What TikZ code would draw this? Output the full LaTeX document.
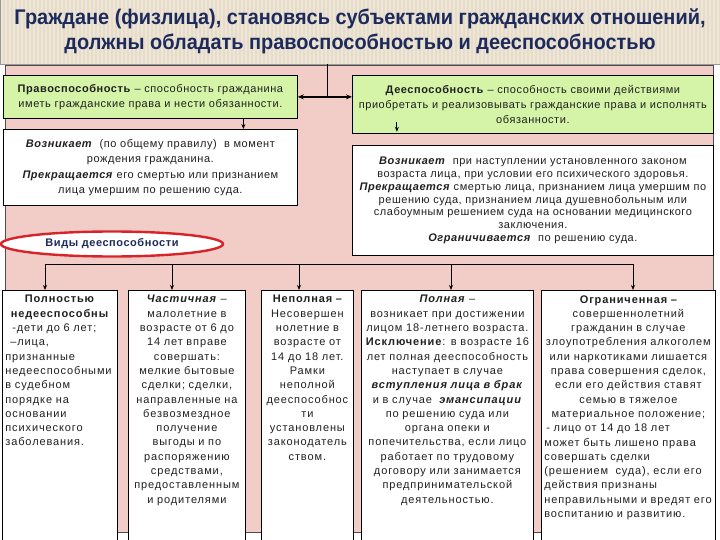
\documentclass[tikz,border=0pt]{standalone}
\usepackage{fontspec}
\setmainfont{Liberation Sans}[LetterSpace=5]
\newfontfamily\titlefont{Liberation Sans}[FakeStretch=0.94]
\newfontfamily\widefont{Liberation Sans}[LetterSpace=8]
\usetikzlibrary{shapes.geometric,arrows.meta}
\definecolor{navy}{HTML}{1C2A5C}
\definecolor{sand}{HTML}{EEE5D4}
\definecolor{blush}{HTML}{F2CDC8}
\definecolor{lime}{HTML}{D5F4A8}
\definecolor{ring}{HTML}{D8232A}
\definecolor{ink}{HTML}{202020}

\begin{document}
\begin{tikzpicture}[x=1pt,y=-1pt,
  box/.style={draw=black,line width=0.8pt,anchor=north west,inner xsep=3pt,text=ink,
    font=\fontsize{11}{15}\selectfont},
  topbox/.style={box,align=center},
  botbox/.style={box,inner ysep=5pt,text depth=244pt,font=\widefont\fontsize{11}{14.3}\selectfont},
  wire/.style={line width=0.9pt,-{Stealth[length=5pt,width=4pt]}}]
\useasboundingbox (0,0) rectangle (720,540);
% Title band
\fill[sand] (0,0) rectangle (720,65);
\foreach \x in {0,4,...,720} {
  \draw[sand!70!black,opacity=0.12,line width=1.2pt] (\x,0) -- (\x,65);
}
\node[draw=black!40,minimum width=720pt,minimum height=65pt,align=center,text=navy,
  font=\titlefont\bfseries\fontsize{21.2}{25}\selectfont] (title) at (360,31.5)
  {Граждане (физлица), становясь субъектами гражданских отношений,\\
   должны обладать правоспособностью и дееспособностью};
% Pink field
\filldraw[fill=blush,draw=black!70,line width=0.6pt] (5,65) rectangle (713,532);
\node[topbox,fill=lime,text width=288pt,minimum width=294pt,minimum height=43pt] (legal) at (3,75)
  {\textbf{Правоспособность} – способность гражданина\\
   иметь гражданские права и нести обязанности.};
\node[topbox,fill=lime,text width=355pt,minimum width=361pt,minimum height=58pt] (capacity) at (352,75)
  {\textbf{Дееспособность} – способность своими действиями\\
   приобретать и реализовывать гражданские права и исполнять\\
   обязанности.};
\node[topbox,fill=white,text width=288pt,minimum width=294pt,minimum height=76pt,
  font=\fontsize{11}{15.5}\selectfont] (legalterm) at (3,129)
  {\textbf{\textit{Возникает}}\ \ (по общему правилу)\ \ в момент\\
   рождения гражданина.\\
   \textbf{\textit{Прекращается}} его смертью или признанием\\
   лица умершим по решению суда.};
\node[topbox,fill=white,text width=355pt,minimum width=361pt,minimum height=110pt,
  font=\fontsize{11}{12.8}\selectfont] (capterm) at (352,145)
  {\textbf{\textit{Возникает}}\ \ при наступлении установленного законом\\
   возраста лица, при условии его психического здоровья.\\
   \textbf{\textit{Прекращается}} смертью лица, признанием лица умершим по\\
   решению суда, признанием лица душевнобольным или\\
   слабоумным решением суда на основании медицинского\\
   заключения.\\
   \textbf{\textit{Ограничивается}}\ \ по решению суда.};
\node[ellipse,draw=ring,line width=2.4pt,fill=white,minimum width=222pt,minimum height=25pt,
  text=navy,font=\bfseries\fontsize{11}{13}\selectfont] (kinds) at (112,244) {Виды дееспособности};
% Kinds of capacity
\node[botbox,fill=white,text width=109pt] (b1) at (2,290)
  {{\centering\textbf{Полностью}\\ \textbf{недееспособны}\par}
   \raggedright\hspace*{7pt}-дети до 6 лет;\\
   \hspace*{5pt}–лица,\\ признанные\\ недееспособными\\ в судебном\\ порядке на\\
   основании\\ психического\\ заболевания.};
\node[botbox,fill=white,text width=111pt,align=center] (b2) at (128,290)
  {\textbf{\textit{Частичная}} –\\ малолетние в\\ возрасте от 6 до\\ 14 лет вправе\\ совершать:\\
   мелкие бытовые\\ сделки; сделки,\\ направленные на\\ безвозмездное\\ получение\\
   выгоды и по\\ распоряжению\\ средствами,\\ предоставленным\\ и родителями};
\node[botbox,fill=white,text width=86pt,align=center] (b3) at (261,290)
  {\textbf{Неполная –}\\ Несовершен\\ нолетние в\\ возрасте от\\ 14 до 18 лет.\\ Рамки\\
   неполной\\ дееспособнос\\ ти\\ установлены\\ законодатель\\ ством.};
\node[botbox,fill=white,text width=166pt,align=center] (b4) at (361,290)
  {\textbf{\textit{Полная}} –\\ возникает при достижении\\ лицом 18-летнего возраста.\\
   \textbf{Исключение}: в возрасте 16\\ лет полная дееспособность\\ наступает в случае\\
   \textbf{\textit{вступления лица в брак}}\\ и в случае\ \ \textbf{\textit{эмансипации}}\\
   по решению суда или\\ органа опеки и\\ попечительства, если лицо\\
   работает по трудовому\\ договору или занимается\\ предпринимательской\\ деятельностью.};
\node[botbox,fill=white,text width=168pt] (b5) at (541,290)
  {{\centering\textbf{Ограниченная –}\\ совершеннолетний\\ гражданин в случае\\
   злоупотребления алкоголем\\ или наркотиками лишается\\ права совершения сделок,\\
   если его действия ставят\\ семью в тяжелое\\ материальное положение;\par}
   \raggedright\hspace*{2pt}- лицо от 14 до 18 лет\\ может быть лишено права\\
   совершать сделки\\ (решением\ \ суда), если его\\ действия признаны\\
   неправильными и вредят его\\ воспитанию и развитию.};
% Connectors
\draw[line width=1.6pt,{Stealth[length=6pt,width=5pt]}-{Stealth[length=6pt,width=5pt]}]
  (legal.east) -- coordinate[pos=0.55] (hub) (legal.east -| capacity.west);
\draw[line width=0.9pt] (hub) -- (hub |- title.south);
\draw[wire] ([xshift=93pt]legal.south) -- ([xshift=93pt]legal.south |- legalterm.north);
\draw[wire] ([xshift=-136pt,yshift=12pt]capacity.south) -- ([xshift=-136pt,yshift=2pt]capacity.south);
\foreach \n/\x in {1/45,2/172,3/299,4/451,5/633} {
  \coordinate (bus\n) at (\x,264);
}
\draw[line width=0.9pt] (bus1) -- (bus5);
\foreach \n in {1,...,5} {
  \draw[wire] (bus\n) -- (bus\n |- b\n.north);
}
\end{tikzpicture}
\end{document}
